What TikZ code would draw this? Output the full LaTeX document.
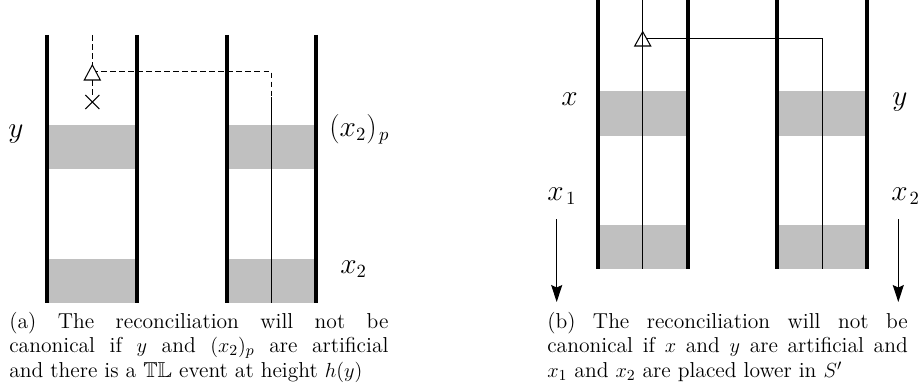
\documentclass[tikz,border=0pt]{standalone}
\usepackage{amssymb}
\usetikzlibrary{arrows.meta}
\definecolor{bandgray}{RGB}{192,192,192}
\begin{document}
\begin{tikzpicture}[x=0.5882pt,y=-0.5882pt,
  wall/.style={line width=2.4pt},
  band/.style={fill=bandgray},
  thinline/.style={line width=0.6pt},
  dashline/.style={line width=0.6pt,dash pattern=on 3.5pt off 1.8pt},
  trishape/.style={draw,line width=0.6pt,fill=white,line join=miter},
  lbl/.style={inner sep=0pt,anchor=base west,font=\fontsize{16}{19}\selectfont},
  captext/.style={inner sep=0pt,anchor=base west,font=\fontsize{12.7}{14.6}\selectfont},
  downarrow/.style={line width=0.6pt,-{Stealth[length=10pt,width=6.5pt,inset=1.5pt]}}
]
\useasboundingbox (0,0) rectangle (920,392);

% ---------- panel (a) ----------
\fill[band] (47.3,125) rectangle (136.7,169);
\fill[band] (47.3,259) rectangle (136.7,303);
\fill[band] (226.7,125) rectangle (316,169);
\fill[band] (226.7,259) rectangle (316,303);

% event line (a)
\coordinate (aTop) at (92.3,35);
\coordinate (aApex) at (92.3,65);
\coordinate (aMid) at (92.3,71.7);
\coordinate (aBase) at (92.3,80);
\coordinate (aCross) at (92.3,102);
\coordinate (aCorner) at (271.7,71.7);
\coordinate (aSwitch) at (271.7,96.7);
\coordinate (aBottom) at (271.7,303);
\draw[dashline] (aTop) -- (aApex);
\draw[dashline] (aMid) -- (aCorner) -- (aSwitch);
\draw[thinline] (aSwitch) -- (aBottom);
\draw[dashline] (aBase) -- (92.3,95);
\draw[trishape] (aApex) -- (100.3,80) -- (84.3,80) -- cycle;
\draw[thinline] (85.3,95) -- (99.3,109) (85.3,109) -- (99.3,95);

\draw[wall] (47.3,35) -- (47.3,303);
\draw[wall] (136.7,35) -- (136.7,303);
\draw[wall] (226.7,35) -- (226.7,303);
\draw[wall] (316,35) -- (316,303);

\node[lbl] (ly) at (8,137) {$y$};
\node[lbl] (lx2p) at (329,136) {$(x_2)_{\hspace{1.5pt}p}$};
\node[lbl] (lx2) at (340,273) {$x_2$};

\node[captext] (capa) at (9,328) {\parbox[t]{223pt}{(a) The reconciliation will not be\linebreak canonical if $y$ and $(x_2)_p$ are artificial\linebreak and there is a $\mathbb{TL}$ event at height $h(y)$}};

% ---------- panel (b) ----------
\fill[band] (598.3,90.7) rectangle (687.7,135.7);
\fill[band] (598.3,225) rectangle (687.7,269.3);
\fill[band] (777.3,90.7) rectangle (867.3,135.7);
\fill[band] (777.3,225) rectangle (867.3,269.3);

\coordinate (bTop) at (642.7,0);
\coordinate (bBottom) at (642.7,269.3);
\coordinate (bMid) at (642.7,38.3);
\coordinate (bCorner) at (822.7,38.3);
\coordinate (bEnd) at (822.7,269.3);
\draw[thinline] (bMid) -- (bCorner) -- (bEnd);
\draw[trishape] (642.7,31.7) -- (650.7,46) -- (634.7,46) -- cycle;
\draw[thinline] (bTop) -- (bBottom);

\draw[wall] (598.3,0) -- (598.3,269.3);
\draw[wall] (687.7,0) -- (687.7,269.3);
\draw[wall] (777.3,0) -- (777.3,269.3);
\draw[wall] (867.3,0) -- (867.3,269.3);

\node[lbl] (bx) at (561,106) {$x$};
\node[lbl] (by) at (892,106) {$y$};
\node[lbl] (bx1) at (547,200) {$x_{\hspace{1.5pt}1}$};
\node[lbl] (bx2) at (891,200) {$x_{\hspace{1.2pt}2}$};

\coordinate (arr1s) at (556.7,219);
\coordinate (arr1e) at (556.7,302);
\coordinate (arr2s) at (898.3,219);
\coordinate (arr2e) at (898.3,302);
\draw[downarrow] (arr1s) -- (arr1e);
\draw[downarrow] (arr2s) -- (arr2e);

\node[captext] (capb) at (547,328) {\parbox[t]{212pt}{(b) The reconciliation will not be\linebreak canonical if $x$ and $y$ are artificial and\linebreak $x_1$ and $x_2$ are placed lower in $S'$}};
\end{tikzpicture}
\end{document}
